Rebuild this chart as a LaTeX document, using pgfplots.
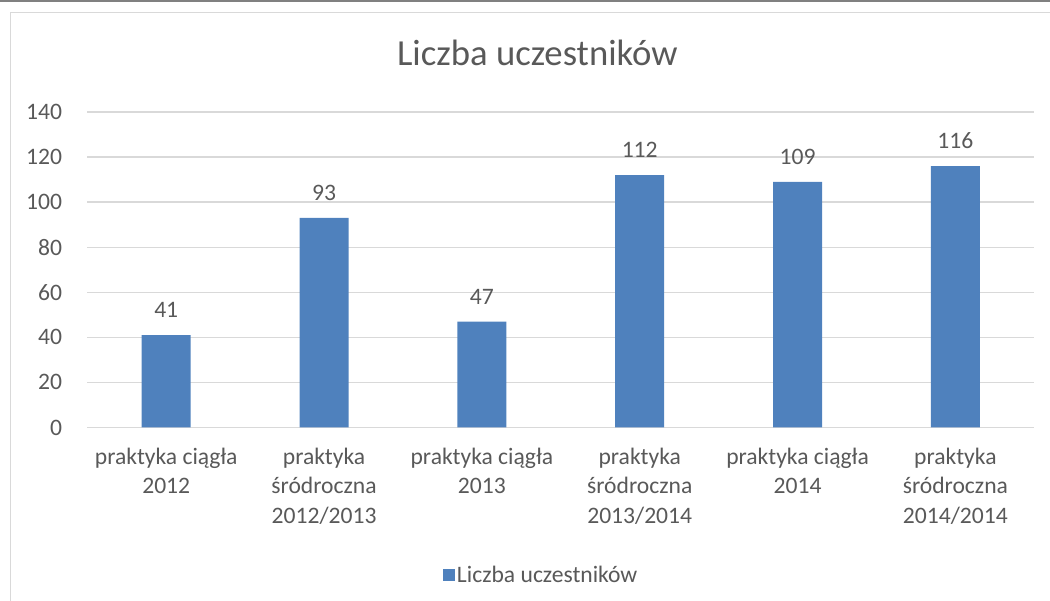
\documentclass[border=0pt]{standalone}
\usepackage{pgfplots}
\pgfplotsset{compat=1.18}
\usepackage{fontspec}
\setmainfont{Carlito}
\definecolor{barc}{HTML}{4F81BD}
\definecolor{txt}{HTML}{595959}
\definecolor{gridc}{HTML}{D9D9D9}
\begin{document}
\begin{tikzpicture}[x=1pt,y=1pt]
\useasboundingbox (0,0) rectangle (1050,601);
\draw[draw=black!50, line width=2pt] (0,600) -- (1050,600);
\draw[gridc, line width=1.2pt] (10.5,-5) -- (10.5,588.5) -- (1060,588.5);
\begin{axis}[
  at={(87.3pt,173.5pt)}, anchor=south west,
  width=947pt, height=315.5pt, scale only axis,
  xmin=-0.5, xmax=5.5, ymin=0, ymax=140,
  ytick={0,20,...,140},
  xtick={0,...,5},
  xticklabels={{praktyka ciągła\\2012},{praktyka\\śródroczna\\2012/2013},{praktyka ciągła\\2013},{praktyka\\śródroczna\\2013/2014},{praktyka ciągła\\2014},{praktyka\\śródroczna\\2014/2014}},
  major tick length=0pt,
  axis line style={draw=none},
  ymajorgrids, grid style={gridc, line width=1.3pt},
  /pgf/number format/assume math mode=true,
  yticklabel style={font=\fontsize{23.6}{28}\selectfont, text=txt, anchor=east, inner sep=0pt, xshift=-25pt},
  xticklabel style={font=\fontsize{23.6}{29.5}\selectfont, text=txt, anchor=north, inner sep=0pt, align=center, yshift=-20pt},
  ybar, bar width=49pt,
  nodes near coords,
  every node near coord/.append style={font=\fontsize{23.6}{28}\selectfont, text=txt, anchor=south, inner sep=0pt, yshift=17pt},
  title={Liczba uczestników},
  title style={font=\fontsize{36.7}{44}\selectfont, text=txt, at={(0.4752,1.1696)}, anchor=center},
  legend style={at={(0.4793,-0.4675)}, anchor=center, draw=none, font=\fontsize{23.6}{28}\selectfont, text=txt},
  legend image code/.code={\fill[barc] (0pt,-6pt) rectangle (12pt,6pt);},
]
\addplot[fill=barc, draw=none] coordinates {(0,41) (1,93) (2,47) (3,112) (4,109) (5,116)};
\addlegendentry{Liczba uczestników}
\end{axis}
\end{tikzpicture}
\end{document}
